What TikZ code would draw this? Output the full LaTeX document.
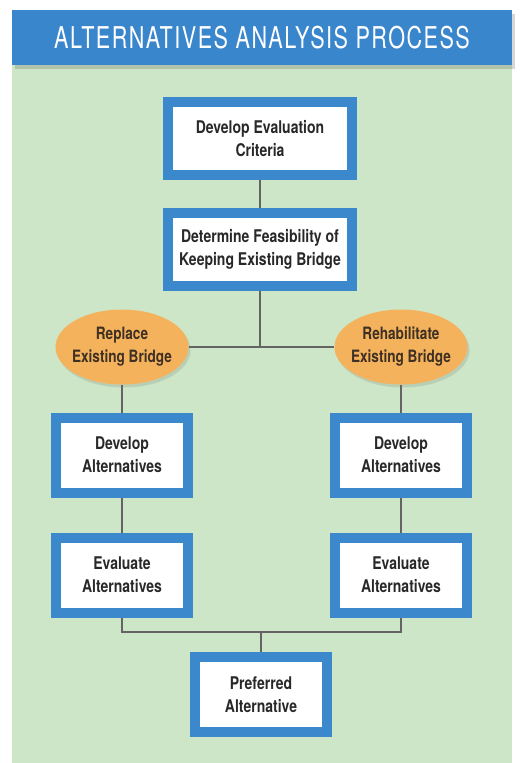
\documentclass[tikz,border=0pt]{standalone}
\usepackage{fontspec}
\setmainfont{TeX Gyre Heros}[FakeStretch=0.8]
\newfontfamily\titlefont{TeX Gyre Heros}[FakeStretch=0.72, LetterSpace=5]
\usetikzlibrary{shapes.geometric,shadows}
\definecolor{panelgreen}{RGB}{205,230,200}
\definecolor{headblue}{RGB}{58,134,204}
\definecolor{boxblue}{RGB}{60,136,205}
\definecolor{ovalorange}{RGB}{245,178,92}
\definecolor{txtgray}{RGB}{40,40,40}
\definecolor{txtbrown}{RGB}{62,48,35}
\definecolor{linegray}{RGB}{100,100,100}
\newcommand{\zl}[1]{\makebox[0pt]{#1}}
\begin{document}
\begin{tikzpicture}[x=1pt,y=-1pt,
  softshadow/.style={drop shadow={shadow xshift=3pt,shadow yshift=-4pt,opacity=0.22,fill=black!70}},
  header/.style={fill=headblue,inner sep=0,minimum width=500pt,minimum height=55pt,text=white,
    font=\titlefont\fontsize{30}{30}\selectfont,softshadow},
  stepbox/.style={draw=boxblue,line width=10pt,fill=white,inner sep=0,align=center,text=txtgray,
    font=\bfseries\fontsize{17.5}{23}\selectfont,minimum width=132pt,minimum height=75pt,softshadow},
  widebox/.style={stepbox,minimum width=184pt,minimum height=73pt},
  oval/.style={ellipse,fill=ovalorange,inner sep=0,minimum width=133pt,minimum height=75pt,
    align=center,text=txtbrown,font=\bfseries\fontsize{17}{23}\selectfont,
    drop shadow={shadow xshift=2pt,shadow yshift=-3pt,opacity=0.15,fill=black!70}},
  link/.style={draw=linegray,line width=2pt}]
\useasboundingbox (0,0) rectangle (521,763);
\fill[white] (0,0) rectangle (521,763);
\fill[panelgreen] (12,65) rectangle (512,763);
\node[header] (title) at (262,37.5) {ALTERNATIVES ANALYSIS PROCESS};
\node[widebox] (crit) at (260,138.5) {Develop Evaluation\\Criteria};
\node[widebox] (feas) at (260,249) {Determine Feasibility of\\Keeping Existing Bridge};
\node[oval] (repl) at (122,347) {\zl{Replace}\\\zl{Existing Bridge}};
\node[oval] (reha) at (401,347) {\zl{Rehabilitate}\\\zl{Existing Bridge}};
\node[stepbox] (devL) at (122,455) {Develop\\Alternatives};
\node[stepbox] (devR) at (401,455) {Develop\\Alternatives};
\node[stepbox] (evaL) at (122,575) {Evaluate\\Alternatives};
\node[stepbox] (evaR) at (401,575) {Evaluate\\Alternatives};
\node[stepbox] (pref) at (261,694.5) {Preferred\\Alternative};
\coordinate (j1) at (260,347);
\coordinate (j2) at (261,632);
\draw[link] (crit.south) -- (feas.north);
\draw[link] (feas.south) -- (j1);
\draw[link] (repl.east) -- (reha.west);
\draw[link] (repl.south) -- (devL.north);
\draw[link] (reha.south) -- (devR.north);
\draw[link] (devL.south) -- (evaL.north);
\draw[link] (devR.south) -- (evaR.north);
\draw[link] (evaL.south) |- (j2) -| (evaR.south);
\draw[link] (j2) -- (pref.north);
\end{tikzpicture}
\end{document}
